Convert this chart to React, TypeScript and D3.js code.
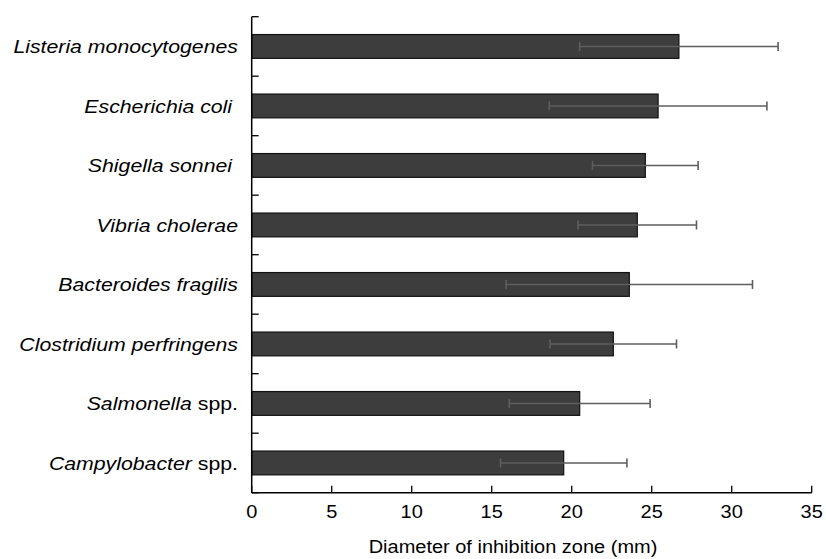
import React from "react";
import * as d3 from "d3";

// Inhibition zone diameters (mm), mean and standard deviation per organism
const organisms = [
  "Listeria monocytogenes",
  "Escherichia coli",
  "Shigella sonnei",
  "Vibria cholerae",
  "Bacteroides fragilis",
  "Clostridium perfringens",
  "Salmonella",
  "Campylobacter",
];
const suffixes = ["", " ", " ", "", "", "", " spp.", " spp."];
const italicTrail = [false, true, true, false, false, false, false, false];
const means = [26.7, 25.4, 24.6, 24.1, 23.6, 22.6, 20.5, 19.5];
const sds = [6.2, 6.8, 3.3, 3.7, 7.7, 3.95, 4.4, 3.95];
const xTicks = [0, 5, 10, 15, 20, 25, 30, 35];
const xTitle = "Diameter of inhibition zone (mm)";

const W = 826;
const H = 559;
const left = 251.7;
const right = 811.7;
const top = 16.7;
const bottom = 492.7;

export default function App() {
  const x = d3.scaleLinear().domain([0, 35]).range([left, right]);
  const y = d3
    .scaleBand<string>()
    .domain(organisms)
    .range([top, bottom])
    .paddingInner(0.6)
    .paddingOuter(0.3);
  const step = y.step();
  const bw = y.bandwidth();
  const boundaries = d3.range(organisms.length + 1).map((i) => top + i * step);
  const font = "'Liberation Sans', Arial, Helvetica, sans-serif";

  return (
    <svg
      width={W}
      height={H}
      style={{ position: "absolute", left: 0, top: 0, background: "#fff" }}
      fontFamily={font}
    >
      {/* bars */}
      {organisms.map((o, i) => (
        <rect
          key={o}
          x={x(0)}
          y={y(o)!}
          width={x(means[i]) - x(0)}
          height={bw}
          fill="#3d3d3d"
          stroke="#111"
          strokeWidth={1.2}
        />
      ))}
      {/* error bars */}
      {organisms.map((o, i) => {
        const cy = y(o)! + bw / 2;
        const x1 = x(means[i] - sds[i]);
        const x2 = x(means[i] + sds[i]);
        return (
          <g key={o} stroke="#5e5e5e" strokeWidth={1.6}>
            <line x1={x1} x2={x2} y1={cy} y2={cy} />
            <line x1={x1} x2={x1} y1={cy - 4.5} y2={cy + 4.5} />
            <line x1={x2} x2={x2} y1={cy - 4.5} y2={cy + 4.5} />
          </g>
        );
      })}
      {/* y axis */}
      <line x1={left} x2={left} y1={top} y2={bottom} stroke="#000" strokeWidth={1.5} />
      {boundaries.map((b, i) => (
        <line key={i} x1={left} x2={left + 7} y1={b} y2={b} stroke="#000" strokeWidth={1.3} />
      ))}
      {organisms.map((o, i) => (
        <text
          key={o}
          x={238}
          y={y(o)! + bw / 2}
          dy="0.36em"
          textAnchor="end"
          fontSize={19}
          style={{ whiteSpace: "pre" }}
          transform={`translate(238,0) scale(1.12,1) translate(-238,0)`}
        >
          <tspan fontStyle="italic">{o}</tspan>
          {suffixes[i] && (
            <tspan fontStyle={italicTrail[i] ? "italic" : "normal"}>{suffixes[i]}</tspan>
          )}
        </text>
      ))}
      {/* x axis */}
      <line x1={left} x2={right} y1={bottom} y2={bottom} stroke="#000" strokeWidth={1.5} />
      {xTicks.map((t) => (
        <g key={t}>
          <line x1={x(t)} x2={x(t)} y1={bottom} y2={bottom - 7} stroke="#000" strokeWidth={1.3} />
          <text
            x={x(t)}
            y={518.3}
            textAnchor="middle"
            fontSize={18.5}
            transform={`translate(${x(t)},0) scale(1.08,1) translate(${-x(t)},0)`}
          >
            {t}
          </text>
        </g>
      ))}
      <text
        x={513}
        y={553.3}
        textAnchor="middle"
        fontSize={18.5}
        transform={`translate(513,0) scale(1.08,1) translate(-513,0)`}
      >
        {xTitle}
      </text>
    </svg>
  );
}
